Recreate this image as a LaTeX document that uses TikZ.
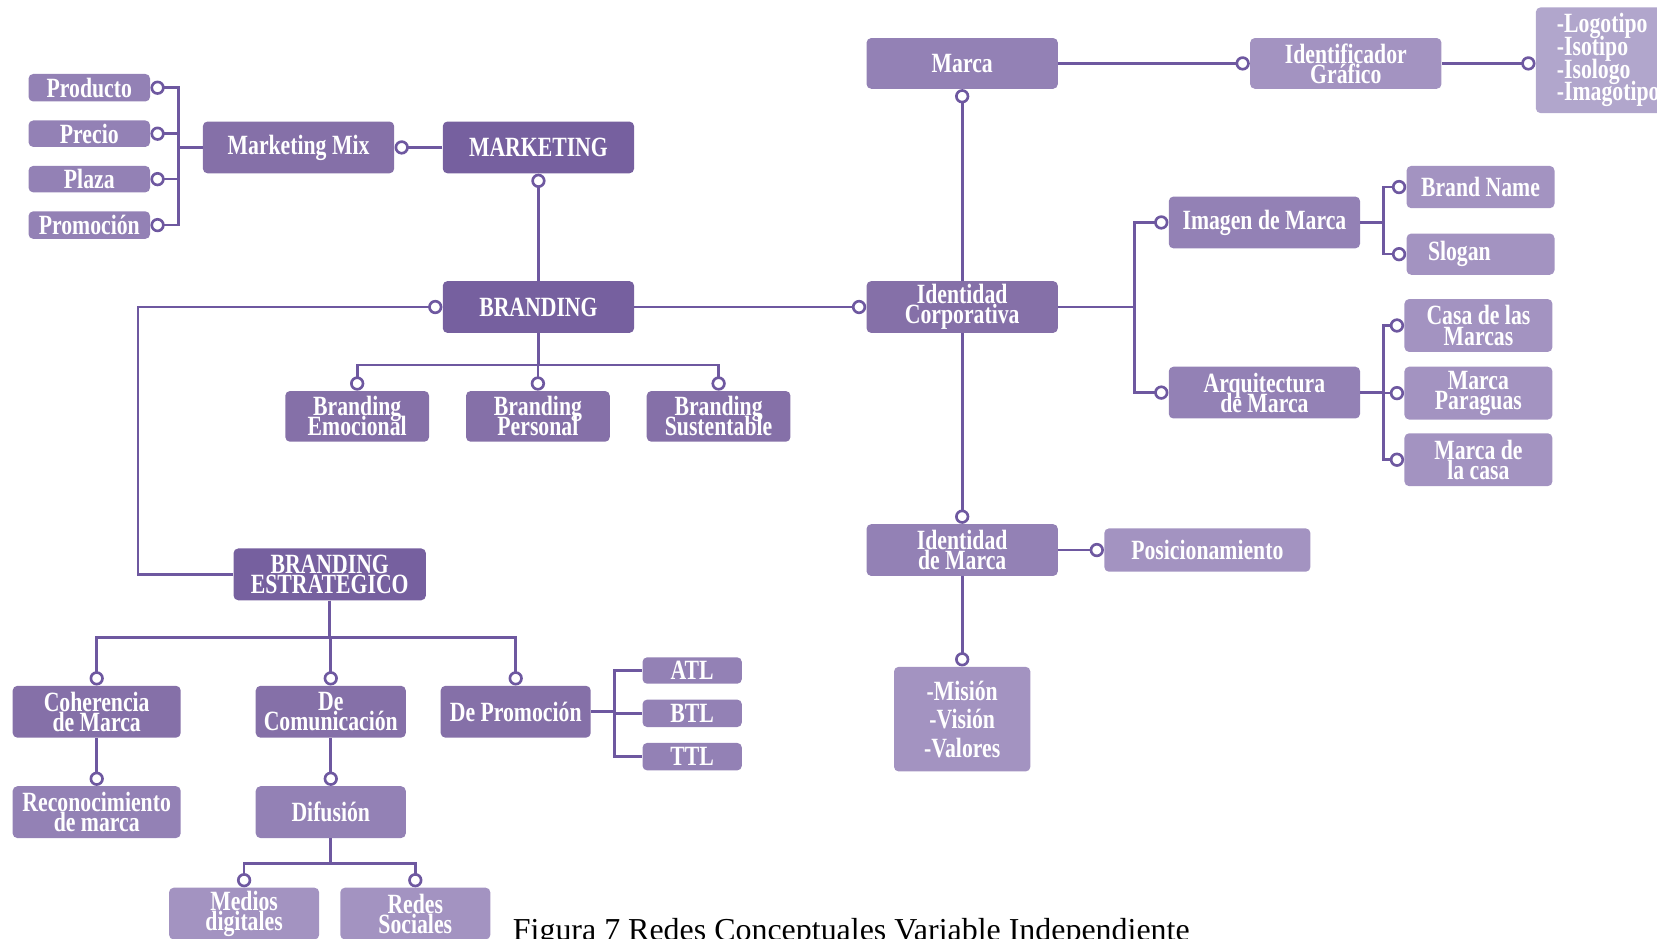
\documentclass[tikz,border=0pt]{standalone}
\usepackage{fontspec}
\setmainfont{Liberation Serif}
\newfontfamily\boxfont[FakeStretch=0.78]{Liberation Serif}
\newcommand\boxtext[1]{\boxfont\bfseries\fontsize{15}{#1}\selectfont\setlength\lineskiplimit{-20pt}}
\usetikzlibrary{arrows.meta}
\definecolor{lnkcol}{HTML}{6E58A0}
\definecolor{darkbox}{HTML}{76609F}
\definecolor{midbox}{HTML}{8570A8}
\definecolor{lightbox}{HTML}{9381B5}
\definecolor{paleboxa}{HTML}{A393C1}
\definecolor{paleboxb}{HTML}{B1A6CC}
\begin{document}
\begin{tikzpicture}[x=0.2mm,y=-0.2mm,
   every node/.style={text=white,inner sep=0pt,align=center,rounded corners=2.5pt,
     font=\boxtext{10.8}},
   sz/.style 2 args={minimum width=#1*0.2mm,minimum height=#2*0.2mm},
   dark/.style={fill=darkbox},
   mid/.style={fill=midbox},
   light/.style={fill=lightbox},
   palea/.style={fill=paleboxa},
   paleb/.style={fill=paleboxb},
   lnk/.style={draw=lnkcol,line width=0.5mm},
   con/.style={lnk,-{Circle[fill=white,length=2.7mm,width=2.7mm]}}]
\useasboundingbox (0,0) rectangle (1568,888);

\node[light,sz={115}{26}] (prod) at (84.5,83) {Producto};
\node[light,sz={115}{25}] (prec) at (84.5,126.5) {Precio};
\node[light,sz={115}{25}] (plaza) at (84.5,169.5) {Plaza};
\node[light,sz={115}{26}] (promo) at (84.5,213) {Promoción};
\node[mid,sz={181}{49}] (mix) at (282.5,139.5) {Marketing Mix};
\node[dark,sz={181}{49}] (mkt) at (509.5,139.5) {MARKETING};
\node[dark,sz={181}{49}] (brand) at (509.5,290.5) {BRANDING};
\node[mid,sz={136}{48}] (emo) at (338,394) {Branding\\Emocional};
\node[mid,sz={136}{48}] (pers) at (509,394) {Branding\\Personal};
\node[mid,sz={136}{48}] (sust) at (680,394) {Branding\\Sustentable};

\node[light,sz={181}{48}] (marca) at (910.5,60) {Marca};
\node[palea,sz={181}{48}] (ident) at (1273.5,60) {Identificador\\Gráfico};
\node[paleb,sz={130}{100},anchor=west,align=left,font=\boxtext{12.2}] (logos) at (1453,57)
  {\hspace*{1.4mm}-Logotipo\\\hspace*{1.4mm}-Isotipo\\\hspace*{1.4mm}-Isologo\\\hspace*{1.4mm}-Imagotipo};
\node[mid,sz={181}{49}] (ic) at (910.5,290.5) {Identidad\\Corporativa};
\node[light,sz={181}{49}] (imagen) at (1196.5,210.5) {Imagen de Marca};
\node[light,sz={181}{49}] (arq) at (1196.5,371.5) {Arquitectura\\de Marca};
\node[palea,sz={140}{40}] (bname) at (1401,177) {Brand Name};
\node[palea,sz={140}{39}] (slogan) at (1401,240.5) {Slogan\hspace*{8mm}};
\node[palea,sz={140}{50}] (casa) at (1399,308) {Casa de las\\Marcas};
\node[palea,sz={140}{50}] (parag) at (1399,372) {Marca\\Paraguas};
\node[palea,sz={140}{50}] (mcasa) at (1399,435) {Marca de\\la casa};
\node[light,sz={181}{49}] (idm) at (910.5,520.5) {Identidad\\de Marca};
\node[palea,sz={195}{41}] (pos) at (1142.5,520.5) {Posicionamiento};
\node[palea,sz={129}{99},font=\boxtext{15.3}] (mision) at (910.5,680.5)
  {-Misión\\-Visión\\-Valores};

\node[dark,sz={182}{49}] (be) at (312,543.5) {BRANDING\\ESTRATÉGICO};
\node[mid,sz={159}{49}] (coh) at (91.5,673.5) {Coherencia\\de Marca};
\node[mid,sz={142}{49}] (com) at (313,673.5) {De\\Comunicación};
\node[mid,sz={142}{49}] (prom) at (488,673.5) {De Promoción};
\node[light,sz={94}{25}] (atl) at (655,634.5) {ATL};
\node[light,sz={94}{26}] (btl) at (655,675) {BTL};
\node[light,sz={94}{26}] (ttl) at (655,716) {TTL};
\node[light,sz={159}{49}] (rec) at (91.5,768.5) {Reconocimiento\\de marca};
\node[light,sz={142}{49}] (dif) at (313,768.5) {Difusión};
\node[palea,sz={142}{49}] (med) at (231,864.5) {Medios\\digitales};
\node[palea,sz={142}{49}] (redes) at (393,864.5) {Redes\\Sociales};

\node[anchor=base west,text=black,font=\fontsize{17.2}{20}\selectfont] (cap) at (485,890)
  {Figura 7 Redes Conceptuales Variable Independiente};

\foreach \n in {prod,prec,plaza,promo}
  \draw[con] (mix.west) -- ++(-23,0) |- (\n.east);
\draw[con] (mkt.west) -- (mix.east);
\draw[con] (brand.north) -- (mkt.south);
\foreach \n in {emo,pers,sust}
  \draw[con] (brand.south) -- ++(0,30) -| (\n.north);
\draw[con] (be.west) -- ++(-90,0) |- (brand.west);
\draw[con] (brand.east) -- (ic.west);

\draw[con] (marca.east) -- (ident.west);
\draw[con] (ident.east) -- (ident.east -| logos.west);
\draw[con] (ic.north) -- (marca.south);
\foreach \n in {imagen,arq}
  \draw[con] (ic.east) -- ++(72,0) |- (\n.west);
\foreach \n in {bname,slogan}
  \draw[con] (imagen.east) -- ++(22,0) |- (\n.west);
\foreach \n in {casa,parag,mcasa}
  \draw[con] (arq.east) -- ++(22,0) |- (\n.west);
\draw[con] (ic.south) -- (idm.north);
\draw[con] (idm.east) -- (pos.west);
\draw[con] (idm.south) -- (mision.north);

\foreach \n in {coh,com,prom}
  \draw[con] (be.south) -- ++(0,35) -| (\n.north);
\foreach \n in {atl,btl,ttl}
  \draw[lnk] (prom.east) -- ++(22,0) |- (\n.west);
\draw[con] (coh.south) -- (rec.north);
\draw[con] (com.south) -- (dif.north);
\foreach \n in {med,redes}
  \draw[con] (dif.south) -- ++(0,24) -| (\n.north);

\end{tikzpicture}
\end{document}
